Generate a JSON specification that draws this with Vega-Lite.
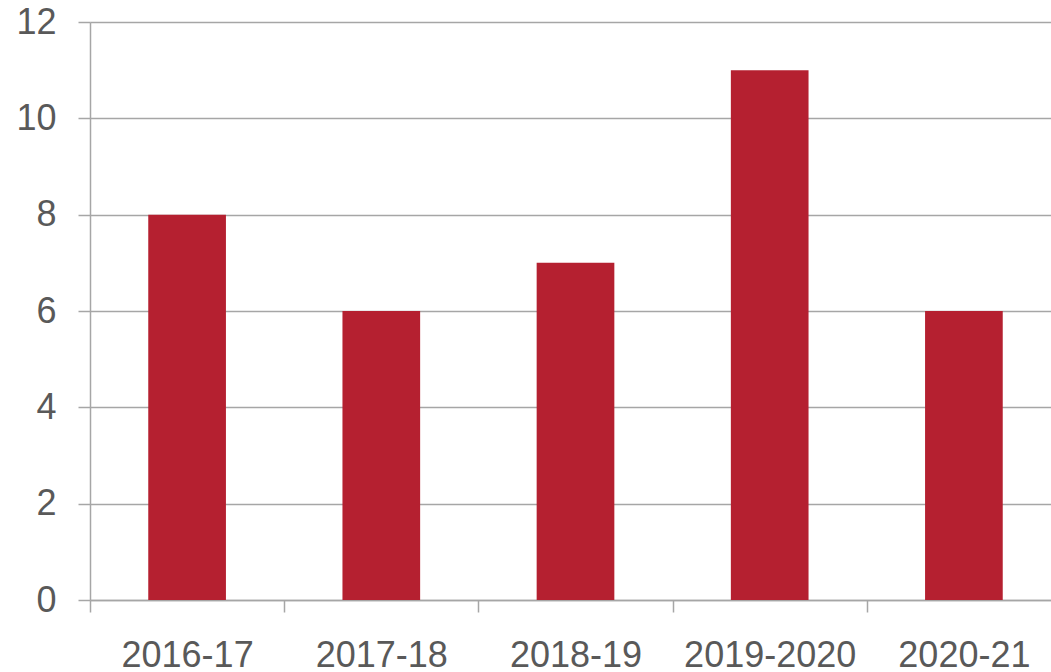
{
  "$schema": "https://vega.github.io/schema/vega-lite/v6.json",
  "autosize": "none",
  "width": 961,
  "height": 578,
  "padding": {"left": 90, "top": 22, "right": 0, "bottom": 72},
  "background": "white",
  "config": {"view": {"stroke": null}, "font": "Liberation Sans"},
  "data": {"values": [
    {"year": "2016-17", "value": 8},
    {"year": "2017-18", "value": 6},
    {"year": "2018-19", "value": 7},
    {"year": "2019-2020", "value": 11},
    {"year": "2020-21", "value": 6}
  ]},
  "mark": {"type": "bar", "color": "#b52030", "width": {"band": 0.4}},
  "encoding": {
    "x": {
      "field": "year", "type": "nominal", "sort": null,
      "scale": {"range": [0, 971], "paddingInner": 0, "paddingOuter": 0},
      "axis": {
        "title": null, "labelAngle": 0, "tickBand": "extent",
        "labelFontSize": 36, "labelColor": "#595959", "labelPadding": 26,
        "domainColor": "#a6a6a6", "domainWidth": 1.5,
        "tickColor": "#a6a6a6", "tickWidth": 1.5, "tickSize": 12,
        "labelFont": "Liberation Sans"
      }
    },
    "y": {
      "field": "value", "type": "quantitative",
      "scale": {"domain": [0, 12], "nice": false},
      "axis": {
        "title": null, "values": [0, 2, 4, 6, 8, 10, 12],
        "labelFontSize": 36, "labelColor": "#595959", "labelPadding": 22,
        "domainColor": "#a6a6a6", "domainWidth": 1.5,
        "tickColor": "#a6a6a6", "tickWidth": 1.5, "tickSize": 12,
        "gridColor": "#a6a6a6", "gridWidth": 1.5, "grid": true,
        "labelFont": "Liberation Sans"
      }
    }
  }
}
